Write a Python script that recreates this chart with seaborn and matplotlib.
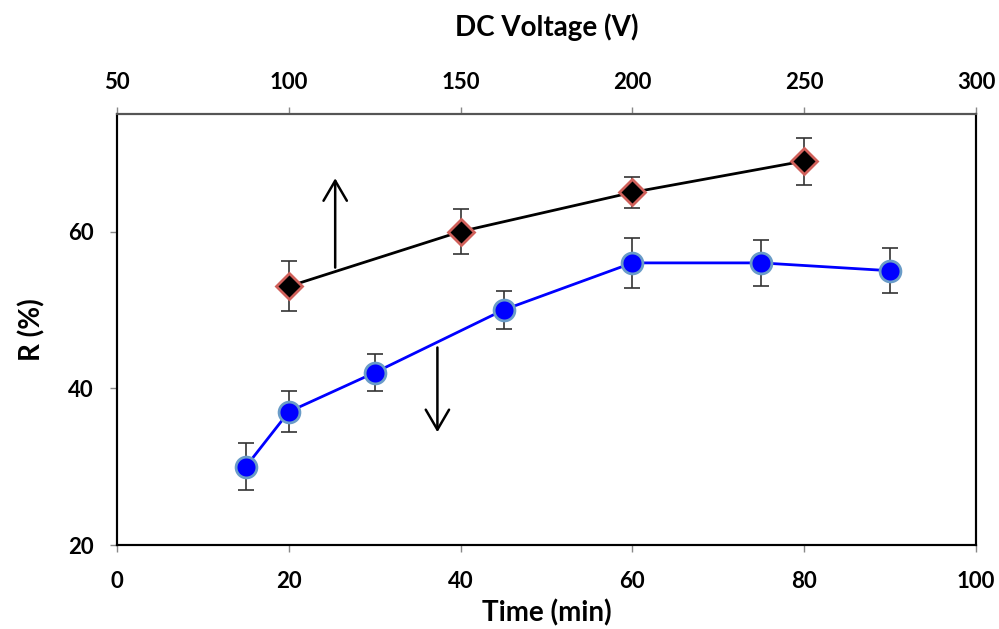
import matplotlib
matplotlib.use("Agg")
import matplotlib.pyplot as plt
import seaborn as sns
import pandas as pd

# Data
time_min = [15, 20, 30, 45, 60, 75, 90]
r_time = [30, 37, 42, 50, 56, 56, 55]
err_time = [3.0, 2.6, 2.4, 2.4, 3.2, 2.9, 2.9]

voltage = [100, 150, 200, 250]
r_volt = [53, 60, 65, 69]
err_volt = [3.2, 2.9, 2.0, 3.0]

sns.set_theme(style="white")
plt.rcParams['font.family'] = ['Lato', 'DejaVu Sans']

fig = plt.figure(figsize=(9.99, 6.29), dpi=100)
ax = fig.add_axes([117/999, 1-545/629, (976-117)/999, (545-114)/629])

df_t = pd.DataFrame({"t": time_min, "r": r_time})
ax.errorbar(time_min, r_time, yerr=err_time, fmt='none', ecolor='#333333',
            elinewidth=1.2, capsize=6, capthick=1.2, zorder=2)
sns.lineplot(data=df_t, x="t", y="r", ax=ax, color="#0000ff", linewidth=2,
             marker='o', markersize=15, markerfacecolor='#0000ff',
             markeredgecolor='#6a9cc8', markeredgewidth=2, zorder=3)

ax.set_xlim(0, 100)
ax.set_ylim(20, 75)
ax.set_xticks([0, 20, 40, 60, 80, 100])
ax.set_yticks([20, 40, 60])
ax.set_xlabel("Time (min)", fontsize=20, fontweight='bold', labelpad=5, color='black')
ax.set_ylabel("R (%)", fontsize=20, fontweight='bold', labelpad=16, color='black')
ax.tick_params(axis='x', labelsize=16, length=5, width=1, color='#888888', direction='out',
               bottom=True, pad=14, labelcolor='black')
ax.tick_params(axis='y', labelsize=16, length=5, width=1, color='#888888', direction='out',
               left=True, pad=12, labelcolor='black')
for lab in ax.get_xticklabels() + ax.get_yticklabels():
    lab.set_fontweight('bold')

ax2 = ax.twiny()
df_v = pd.DataFrame({"v": voltage, "r": r_volt})
ax2.errorbar(voltage, r_volt, yerr=err_volt, fmt='none', ecolor='#333333',
             elinewidth=1.2, capsize=6, capthick=1.2, zorder=2)
sns.lineplot(data=df_v, x="v", y="r", ax=ax2, color="black", linewidth=2,
             marker='D', markersize=13, markerfacecolor='black',
             markeredgecolor='#d0605a', markeredgewidth=2, zorder=3)
ax2.set_xlim(50, 300)
ax2.set_ylim(20, 75)
ax2.set_xticks([50, 100, 150, 200, 250, 300])
ax2.set_xlabel("DC Voltage (V)", fontsize=20, fontweight='bold', labelpad=26, color='black')
ax2.set_ylabel("")
ax2.tick_params(axis='x', labelsize=16, length=5, width=1, color='#888888', direction='out',
                top=True, pad=10, labelcolor='black')
for lab in ax2.get_xticklabels():
    lab.set_fontweight('bold')

for a in (ax, ax2):
    for s in ['left', 'right', 'top', 'bottom']:
        a.spines[s].set_color('black')
        a.spines[s].set_linewidth(1.5)
ax2.spines['top'].set_color('#555555')

# Arrows
astyle = '->,head_width=0.7,head_length=1.2'
ax.annotate("", xy=(25.4, 66.8), xytext=(25.4, 55.4),
            arrowprops=dict(arrowstyle=astyle, color='black', lw=1.8, shrinkA=0, shrinkB=0))
ax.annotate("", xy=(37.3, 34.4), xytext=(37.3, 45.2),
            arrowprops=dict(arrowstyle=astyle, color='black', lw=1.8, shrinkA=0, shrinkB=0))

fig.savefig("out.png", dpi=100)
